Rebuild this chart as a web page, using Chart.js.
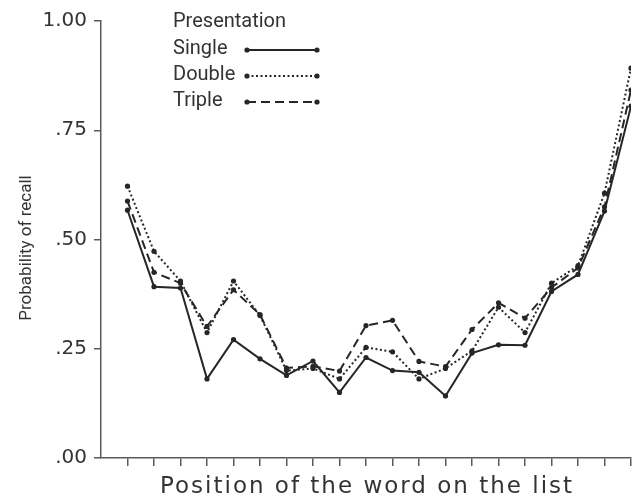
<!DOCTYPE html>
<html>
<head>
<meta charset="utf-8">
<script src="https://cdn.jsdelivr.net/npm/chart.js@4.4.0/dist/chart.umd.min.js"></script>
<style>
  html, body { margin: 0; padding: 0; background: #fff; }
  #wrap { width: 635px; height: 500px; }
</style>
</head>
<body>
<div id="wrap"><canvas id="chart" width="635" height="500"></canvas></div>
<script>
// --- Data ---
const positions = [1, 2, 3, 4, 5, 6, 7, 8, 9, 10, 11, 12, 13, 14, 15, 16, 17, 18, 19, 20];
const single = [0.567, 0.392, 0.389, 0.181, 0.271, 0.227, 0.189, 0.222, 0.150, 0.230,
                0.200, 0.196, 0.142, 0.240, 0.259, 0.258, 0.381, 0.420, 0.565, 0.805];
const double = [0.622, 0.473, 0.405, 0.287, 0.405, 0.326, 0.200, 0.205, 0.181, 0.253,
                0.243, 0.181, 0.205, 0.245, 0.345, 0.287, 0.400, 0.440, 0.606, 0.892];
const triple = [0.588, 0.425, 0.400, 0.301, 0.385, 0.328, 0.206, 0.210, 0.199, 0.303,
                0.315, 0.221, 0.209, 0.294, 0.355, 0.320, 0.390, 0.435, 0.575, 0.842];
const yTicks = [0, 0.25, 0.5, 0.75, 1];
const yTickLabels = ['.00', '.25', '.50', '.75', '1.00'];

const ink = '#262626';
const textInk = '#333';
const axisGrey = '#5a5a5a';
const font = 'Roboto, "Liberation Sans", sans-serif';
const wideFont = '"DejaVu Sans", sans-serif';

const toPoints = (vals) => vals.map((v, i) => ({ x: positions[i], y: v }));

const makeSet = (label, vals, dash, width) => ({
    label,
    data: toPoints(vals),
    borderColor: ink,
    backgroundColor: ink,
    borderWidth: width,
    borderDash: dash,
    pointRadius: 2.6,
    pointBorderWidth: 0,
    pointBackgroundColor: ink,
    tension: 0,
    fill: false,
});

// axis titles and legend, placed like the printed figure
const figureText = {
    id: 'figureText',
    afterDraw(chart) {
        const ctx = chart.ctx;
        const area = chart.chartArea;
        ctx.save();
        ctx.fillStyle = textInk;
        ctx.textBaseline = 'middle';

        // x title (slightly letter-spaced like the original)
        ctx.font = '23px ' + wideFont;
        ctx.textAlign = 'center';
        if ('letterSpacing' in ctx) ctx.letterSpacing = '2px';
        ctx.fillText('Position of the word on the list', (area.left + area.right) / 2 + 1, 487);
        if ('letterSpacing' in ctx) ctx.letterSpacing = '0px';

        // y title
        ctx.save();
        ctx.translate(27, 248);
        ctx.rotate(-Math.PI / 2);
        ctx.font = '17px ' + font;
        ctx.fillText('Probability of recall', 0, 0);
        ctx.restore();

        // legend: text on the left, line sample on the right
        ctx.textAlign = 'left';
        ctx.font = '20px ' + font;
        ctx.fillText('Presentation', 173, 22);
        chart.data.datasets.forEach((ds, i) => {
            const y = 49 + i * 26;
            ctx.fillStyle = textInk;
            ctx.fillText(ds.label, 173, y);
            ctx.strokeStyle = ds.borderColor;
            ctx.lineWidth = ds.borderWidth;
            ctx.setLineDash(ds.borderDash);
            ctx.beginPath();
            ctx.moveTo(247, y + 1);
            ctx.lineTo(317, y + 1);
            ctx.stroke();
            ctx.setLineDash([]);
            ctx.fillStyle = ink;
            [247, 317].forEach((x) => {
                ctx.beginPath();
                ctx.arc(x, y + 1, 2.6, 0, Math.PI * 2);
                ctx.fill();
            });
        });
        ctx.restore();
    }
};

const chart = new Chart(document.getElementById('chart').getContext('2d'), {
    type: 'line',
    data: {
        datasets: [
            makeSet('Single', single, [], 2),
            makeSet('Double', double, [2, 2.5], 2),
            makeSet('Triple', triple, [9, 5], 2),
        ]
    },
    options: {
        responsive: false,
        animation: false,
        layout: { padding: { left: 0, right: 4, top: 21, bottom: 0 } },
        plugins: {
            legend: { display: false },
            tooltip: { enabled: false },
        },
        scales: {
            x: {
                type: 'linear',
                min: 0,
                max: 20,
                afterFit: (scale) => { scale.height = 42; },
                afterBuildTicks: (scale) => {
                    scale.ticks = positions.map((p) => ({ value: p }));
                },
                ticks: { display: false },
                grid: {
                    drawOnChartArea: false,
                    drawTicks: true,
                    tickLength: 8,
                    color: axisGrey,
                    lineWidth: 1.5,
                },
                border: { color: axisGrey, width: 1.5 },
            },
            y: {
                min: 0,
                max: 1,
                afterFit: (scale) => { scale.width = 101; },
                afterBuildTicks: (scale) => {
                    scale.ticks = yTicks.map((v) => ({ value: v }));
                },
                ticks: {
                    color: textInk,
                    font: { family: wideFont, size: 20 },
                    padding: 7,
                    callback: (v) => yTickLabels[yTicks.indexOf(v)],
                },
                grid: {
                    drawOnChartArea: false,
                    drawTicks: true,
                    tickLength: 7,
                    color: axisGrey,
                    lineWidth: 1.5,
                },
                border: { color: axisGrey, width: 1.5 },
            },
        },
    },
    plugins: [figureText],
});
</script>
</body>
</html>
